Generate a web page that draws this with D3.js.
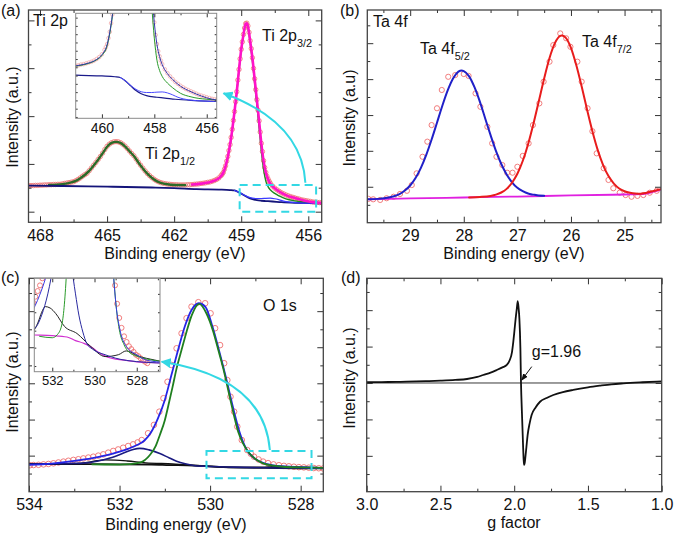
<!DOCTYPE html>
<html>
<head>
<meta charset="utf-8">
<title>XPS and EPR spectra</title>
<script src="https://d3js.org/d3.v7.min.js"></script>
<style>
  body { margin: 0; background: #fff; }
  svg { display: block; }
</style>
</head>
<body>
<svg id="fig" width="675" height="536"></svg>
<script>
// ---------- data (x value, intensity) ----------

// (a) Ti 2p, intensity in % of frame height
const aData = [
  [468.5,17.2],[468.4,17.3],[468.3,17.3],[468.2,17.4],[468.1,17.4],[468.0,17.5],[467.9,17.5],[467.8,17.6],[467.7,17.6],[467.6,17.7],
  [467.5,17.7],[467.4,17.8],[467.3,17.8],[467.2,17.9],[467.1,17.9],[467.0,18.1],[466.9,18.3],[466.8,18.5],[466.7,18.7],[466.6,18.9],
  [466.5,19.1],[466.4,19.6],[466.3,20.2],[466.2,20.9],[466.1,21.7],[466.0,22.4],[465.9,23.1],[465.8,24.3],[465.7,25.6],[465.6,26.9],
  [465.5,28.2],[465.4,29.6],[465.3,31.0],[465.2,32.6],[465.1,34.3],[465.0,35.8],[464.9,36.8],[464.8,37.5],[464.7,37.9],[464.6,38.0],
  [464.5,37.9],[464.4,37.5],[464.3,36.8],[464.2,35.9],[464.1,34.8],[464.0,33.6],[463.9,32.4],[463.8,31.3],[463.7,29.8],[463.6,28.3],
  [463.5,26.9],[463.4,25.5],[463.3,24.2],[463.2,23.0],[463.1,22.0],[463.0,21.1],[462.9,20.3],[462.8,19.6],[462.7,19.1],[462.6,18.7],
  [462.5,18.4],[462.4,18.2],[462.3,18.0],[462.2,17.9],[462.1,17.8],[462.0,17.7],[461.9,17.7],[461.8,17.6],[461.7,17.6],[461.6,17.6],
  [461.5,17.6],[461.4,17.7],[461.3,17.7],[461.2,17.8],[461.1,17.9],[461.0,18.0],[460.9,18.1],[460.8,18.3],[460.7,18.4],[460.6,18.6],
  [460.5,18.8],[460.4,19.0],[460.3,19.3],[460.2,19.7],[460.1,20.2],[460.0,20.9],[459.9,22.0],[459.85,22.7],[459.8,23.5],[459.75,25.0],
  [459.7,26.6],[459.65,28.8],[459.6,31.0],[459.55,33.8],[459.5,36.6],[459.45,40.0],[459.4,43.8],[459.35,48.0],[459.3,52.2],[459.25,56.8],
  [459.2,61.5],[459.15,67.0],[459.1,72.0],[459.05,77.0],[459.0,81.5],[458.95,85.0],[458.9,88.5],[458.85,91.5],[458.8,93.6],[458.75,93.8],
  [458.7,92.5],[458.65,89.5],[458.6,85.5],[458.55,81.8],[458.5,77.5],[458.45,72.5],[458.4,67.6],[458.35,62.5],[458.3,57.8],[458.25,52.9],
  [458.2,47.8],[458.15,42.5],[458.1,37.2],[458.05,33.3],[458.0,29.0],[457.95,25.8],[457.9,23.5],[457.85,21.7],[457.8,20.4],[457.75,19.3],
  [457.7,18.4],[457.6,17.1],[457.5,16.1],[457.4,15.3],[457.3,14.6],[457.2,13.9],[457.1,13.4],[457.0,12.9],[456.9,12.5],[456.8,12.1],
  [456.7,11.8],[456.6,11.5],[456.5,11.2],[456.4,10.9],[456.3,10.6],[456.2,10.4],[456.1,10.2],[456.0,10.0],[455.9,9.8],[455.8,9.6],
  [455.7,9.5],[455.6,9.4],[455.5,9.3],[455.4,9.2]
];
const aFit12 = [
  [467.6,17.6],[467.0,18.0],[466.6,18.8],[466.4,19.5],[466.2,20.8],[466.0,22.3],[465.8,24.2],[465.6,26.8],[465.4,29.5],[465.2,32.5],
  [465.0,35.6],[464.8,37.4],[464.6,37.9],[464.4,37.4],[464.2,35.8],[464.0,33.5],[463.8,31.2],[463.6,28.2],[463.4,25.4],[463.2,22.9],
  [463.0,21.0],[462.8,19.5],[462.6,18.6],[462.3,17.9],[462.0,17.6],[461.5,17.5]
];
const aFit32 = [
  [461.2,17.8],[460.8,18.2],[460.5,18.7],[460.2,19.6],[460.0,20.8],[459.8,23.4],[459.7,26.5],[459.6,30.9],[459.5,36.5],[459.4,43.7],
  [459.3,52.1],[459.2,61.4],[459.1,71.9],[459.0,81.4],[458.9,88.4],[458.8,93.5],[458.75,93.7],[458.7,92.4],[458.6,85.4],[458.5,77.4],
  [458.4,67.5],[458.3,57.7],[458.2,47.7],[458.1,37.1],[458.0,28.9],[457.9,23.4],[457.8,20.3],[457.7,18.3],[457.5,16.0],[457.3,14.5],
  [457.0,12.8],[456.6,11.4],[456.2,10.3],[455.8,9.5],[455.4,9.1]
];
const aTi4 = [
  [461.2,17.7],[460.8,18.1],[460.5,18.6],[460.2,19.5],[460.0,20.6],[459.8,23.1],[459.7,26.2],[459.6,30.5],[459.5,36.1],[459.4,43.3],
  [459.3,51.7],[459.2,61.0],[459.1,71.5],[459.0,81.0],[458.9,88.0],[458.8,93.0],[458.75,93.2],[458.7,91.8],[458.6,84.5],[458.5,76.0],
  [458.4,65.5],[458.3,55.0],[458.2,44.5],[458.1,33.5],[458.0,25.0],[457.9,19.4],[457.8,16.8],[457.7,15.3],[457.5,13.6],[457.3,12.4],
  [457.0,11.0],[456.6,10.1],[456.3,9.7],[456.0,9.5],[455.6,9.3],[455.4,9.2]
];
const aTi3 = [
  [459.3,15.0],[459.1,14.15],[458.9,13.0],[458.7,12.0],[458.5,11.4],[458.3,11.2],[458.1,11.2],[457.9,11.3],[457.7,11.35],[457.5,11.1],
  [457.3,10.6],[457.1,10.0],[456.9,9.6],[456.7,9.35],[456.4,9.15],[456.0,9.0],[455.4,8.9]
];
const aBackground = [
  [468.5,17.3],[467.0,17.1],[465.0,16.8],[463.0,16.4],[462.0,16.1],[461.0,15.6],[460.0,15.4],[459.5,15.2],[459.3,15.0],[459.1,14.1],
  [458.9,12.9],[458.7,11.7],[458.5,10.9],[458.3,10.4],[458.1,10.15],[457.9,10.0],[457.6,9.8],[457.2,9.5],[456.6,9.2],[456.0,9.0],[455.4,8.9]
];

// (b) Ta 4f
const bData = [
  [29.78,11.2],[29.69,11.0],[29.56,10.7],[29.44,11.5],[29.31,12.2],[29.19,13.5],[29.06,15.0],[28.97,17.7],[28.88,23.2],[28.77,31.0],
  [28.68,38.1],[28.6,45.9],[28.5,53.8],[28.41,62.4],[28.29,68.6],[28.16,69.4],[28.0,69.9],[27.91,69.0],[27.78,60.8],[27.69,54.5],
  [27.56,45.1],[27.47,37.3],[27.39,31.0],[27.28,27.1],[27.19,23.5],[27.09,23.5],[27.0,26.3],[26.9,31.4],[26.79,37.3],[26.71,45.9],
  [26.59,56.1],[26.51,66.3],[26.4,75.7],[26.33,83.5],[26.2,89.0],[26.09,86.7],[26.01,82.7],[25.88,75.7],[25.8,66.3],[25.69,53.8],
  [25.6,43.0],[25.52,32.6],[25.39,25.6],[25.3,20.1],[25.21,16.2],[25.09,14.1],[24.98,13.0],[24.87,12.2],[24.76,12.6],[24.65,13.0],
  [24.53,14.1],[24.4,15.0]
];
const bTa52 = [
  [29.8,11.0],[29.6,11.2],[29.4,11.8],[29.3,12.4],[29.2,13.4],[29.1,15.1],[29.0,17.5],[28.9,21.0],[28.8,25.8],[28.7,31.9],
  [28.6,39.1],[28.5,47.0],[28.4,55.0],[28.3,62.2],[28.2,67.8],[28.1,71.0],[28.04,71.6],[28.0,71.3],[27.9,68.8],[27.8,63.7],
  [27.7,56.9],[27.6,49.0],[27.5,41.2],[27.4,33.8],[27.3,27.6],[27.2,22.7],[27.1,19.0],[27.0,16.4],[26.9,14.8],[26.8,13.7],
  [26.7,13.2],[26.6,12.8],[26.5,12.7]
];
const bTa72 = [
  [27.9,11.9],[27.7,12.1],[27.5,12.6],[27.4,13.2],[27.3,14.2],[27.2,15.9],[27.1,18.8],[27.0,23.0],[26.9,29.0],[26.8,36.9],
  [26.7,46.5],[26.6,57.1],[26.5,67.8],[26.4,77.4],[26.3,84.4],[26.2,87.8],[26.17,88.0],[26.1,87.0],[26.0,82.2],[25.9,74.0],
  [25.8,64.0],[25.7,53.2],[25.6,43.0],[25.5,34.1],[25.4,27.1],[25.3,21.9],[25.2,18.4],[25.1,16.1],[25.0,14.8],[24.9,14.1],
  [24.8,13.7],[24.7,13.6],[24.6,14.0],[24.5,14.7],[24.4,15.3],[24.32,15.8]
];
const bBaseline = [
  [29.8,11.0],[29.0,11.4],[28.0,11.85],[27.0,12.3],[26.0,12.8],[25.0,13.25],[24.7,13.4],[24.6,13.7],[24.5,14.3],[24.4,15.0],[24.32,15.6]
];

// (c) O 1s
const cData = [
  [533.98,12.4],[533.9,12.5],[533.79,12.6],[533.68,12.8],[533.57,13.0],[533.46,13.3],[533.35,13.7],[533.24,14.1],[533.13,14.5],[533.02,14.9],
  [532.91,15.2],[532.8,15.6],[532.69,16.0],[532.58,16.4],[532.47,16.9],[532.36,17.5],[532.25,18.3],[532.14,19.1],[532.03,19.8],[531.92,20.6],
  [531.81,21.4],[531.7,22.2],[531.6,23.1],[531.51,24.2],[531.37,27.4],[531.24,31.3],[531.12,37.5],[531.03,43.8],[530.94,51.5],[530.85,59.4],
  [530.74,67.2],[530.63,74.2],[530.52,81.3],[530.41,86.7],[530.26,88.8],[530.11,88.3],[529.99,83.6],[529.89,76.6],[529.78,68.7],[529.69,60.2],
  [529.62,52.3],[529.55,44.5],[529.47,37.5],[529.4,30.5],[529.3,24.2],[529.18,19.5],[529.1,17.8],[529.03,16.4],[528.93,15.1],[528.83,14.1],
  [528.72,13.4],[528.6,12.8],[528.48,12.4],[528.37,12.1],[528.26,11.9],[528.15,11.7],[528.04,11.5],[527.93,11.4],[527.82,11.25],[527.71,11.1],
  [527.6,11.0],[527.5,10.9]
];
const cEnvelope = [
  [534.0,12.6],[533.5,13.2],[533.0,14.4],[532.6,15.7],[532.3,17.0],[532.0,18.8],[531.8,20.2],[531.6,22.0],[531.45,24.0],[531.3,28.0],
  [531.15,34.5],[531.0,43.0],[530.85,55.0],[530.7,67.0],[530.55,78.0],[530.4,85.5],[530.25,88.3],[530.1,86.5],[529.95,77.5],[529.8,66.0],
  [529.65,53.5],[529.5,40.0],[529.35,28.0],[529.2,20.0],[529.0,15.3],[528.8,13.3],[528.5,12.1],[528.0,11.5],[527.5,11.1],[526.6,10.95]
];
const cOlattice = [
  [532.6,12.8],[532.0,12.7],[531.77,12.9],[531.55,13.6],[531.33,17.2],[531.2,21.5],[531.11,26.6],[531.0,33.5],[530.92,40.6],[530.83,49.0],
  [530.74,57.8],[530.63,66.5],[530.52,75.0],[530.4,83.0],[530.24,88.0],[530.08,83.5],[529.93,75.0],[529.82,66.5],[529.71,57.8],[529.63,50.5],
  [529.56,43.8],[529.47,35.5],[529.38,28.1],[529.27,22.5],[529.16,18.7],[529.0,15.3],[528.83,13.3],[528.6,12.2],[528.38,11.7],[528.0,11.4],
  [527.54,11.2],[526.6,11.0]
];
const cOvacancy = [
  [534.0,13.0],[533.5,13.1],[533.0,13.25],[532.8,13.4],[532.5,14.3],[532.21,15.8],[531.9,18.2],[531.7,19.8],[531.55,20.3],[531.35,19.6],
  [531.11,17.9],[530.9,15.8],[530.74,14.3],[530.55,13.1],[530.37,12.3],[530.1,11.9],[529.5,11.5],[528.5,11.1],[526.6,10.9]
];
const cOhydroxyl = [
  [534.0,13.0],[533.3,13.0],[532.95,13.1],[532.67,13.8],[532.5,14.5],[532.33,14.9],[532.1,14.8],[531.83,14.4],[531.42,13.5],[530.83,13.0],
  [530.17,12.07],[529.5,11.37],[528.87,11.5],[528.5,11.77],[527.92,11.4],[527.17,11.13],[526.67,10.97]
];
const cBackground = [
  [534.0,13.0],[533.0,12.9],[532.0,12.85],[531.3,12.75],[530.9,12.5],[530.5,12.3],[530.1,12.0],[529.8,11.65],[529.5,11.4],[529.2,11.25],
  [528.5,11.1],[528.0,11.0],[527.5,10.95],[526.6,10.9]
];

// (d) EPR, g factor vs intensity (tick units)
const dSignal = [
  [3.0,0.04],[2.9,0.05],[2.8,0.06],[2.73,0.07],[2.6,0.1],[2.5,0.13],[2.4,0.17],[2.32,0.22],[2.25,0.33],[2.21,0.44],
  [2.16,0.57],[2.12,0.71],[2.08,0.86],[2.05,0.99],[2.03,1.26],[2.015,1.7],[2.006,2.27],[1.998,2.9],[1.99,3.55],[1.982,4.1],
  [1.976,4.5],[1.97,4.1],[1.965,3.55],[1.958,1.91],[1.954,0.04],[1.947,-1.76],[1.94,-3.41],[1.936,-4.2],[1.933,-4.5],[1.929,-4.4],
  [1.925,-4.14],[1.917,-3.5],[1.909,-2.86],[1.895,-2.2],[1.882,-1.76],[1.855,-1.35],[1.825,-1.03],[1.78,-0.82],[1.735,-0.66],[1.67,-0.5],
  [1.6,-0.38],[1.5,-0.24],[1.42,-0.15],[1.34,-0.07],[1.26,-0.02],[1.13,0.04],[1.0,0.09]
];

// axis domains
const aXDomain = [468.515, 455.4], aYDomain = [0, 100];
const bXDomain = [29.8, 24.32], bYDomain = [0, 100];
const cXDomain = [534, 527.5], cYDomain = [0, 100];
const dXDomain = [3.0, 1.0], dYDomain = [-5.97, 5.75];
const iaXDomain = [461, 455.62], iaYDomain = [4.66, 31.3];
const icXDomain = [532.85, 526.9], icYDomain = [10.3, 16.9];

// tick values
const aXMajor = [468, 465, 462, 459, 456], aXMinor = [466.5, 463.5, 460.5, 457.5];
const aYMajor = [5, 27.5, 50, 72.6, 95.1], aYMinor = [16.3, 38.8, 61.3, 83.8];
const bXMajor = [29, 28, 27, 26, 25], bXMinor = [29.5, 28.5, 27.5, 26.5, 25.5, 24.5];
const bYMajor = [16.9, 33.8, 50.6, 67.5, 84.4], bYMinor = [8.4, 25.3, 42.2, 59.1, 76.0, 92.8];
const cXMajor = [534, 532, 530, 528], cXMinor = [533, 531, 529];
const cYMajor = [16.9, 33.8, 50.8, 67.7, 84.6], cYMinor = [8.5, 25.4, 42.3, 59.2, 76.1, 93.1];
const dXMajor = [3.0, 2.5, 2.0, 1.5, 1.0], dXMinor = [2.75, 2.25, 1.75, 1.25];
const dYMajor = [-4, -2, 0, 2, 4], dYMinor = [-5, -3, -1, 1, 3, 5];
const iaXMajor = [460, 458, 456], iaXMinor = [459, 457];
const iaYMinor = [5.0, 7.1, 9.2, 11.3, 13.4, 15.5, 17.6, 19.7, 21.8, 23.9, 26.0, 28.1, 30.2];
const icXMajor = [532, 530, 528], icXMinor = [531, 529, 527];
const icYMinor = [10.7, 12.0, 13.2, 14.5, 15.8];

// annotations in data units: zoom boxes [corner, corner], arrows [start, control, end]
const aZoomBox = [[459.07, 17.57], [455.65, 5.0]];
const aArrow = [[456.13, 18.65], [456.28, 47.2], [459.79, 60.8]];
const cZoomBox = [[530.08, 19.07], [527.76, 6.28]];
const cArrow = [[528.68, 19.54], [528.81, 53.5], [531.07, 60.9]];
const dArrow = [[1.881, 0.9], [1.949, 0.16]];
const dLabelAt = [1.881, 1.45];

// ---------- layout ----------
const FONT = "Arial, 'Liberation Sans', sans-serif";
const CYAN = "#33d8e4";
const RED_CIRCLE = "#ef6f6f";

const svg = d3.select("#fig").attr("font-family", FONT);
const defs = svg.append("defs");

defs.append("marker").attr("id", "cyanHead")
  .attr("viewBox", "0 0 10 10").attr("refX", 9).attr("refY", 5)
  .attr("markerWidth", 5).attr("markerHeight", 5).attr("orient", "auto")
  .append("path").attr("d", "M0,0L10,5L0,10z").attr("fill", CYAN);
defs.append("marker").attr("id", "blackHead")
  .attr("viewBox", "0 0 10 10").attr("refX", 9).attr("refY", 5)
  .attr("markerWidth", 7).attr("markerHeight", 7).attr("orient", "auto")
  .append("path").attr("d", "M0,1L10,5L0,9z").attr("fill", "#111");

function makePanel(id, box, xDomain, yDomain) {
  const x = d3.scaleLinear().domain(xDomain).range([box.left, box.right]);
  const y = d3.scaleLinear().domain(yDomain).range([box.bottom, box.top]);
  defs.append("clipPath").attr("id", "clip-" + id).append("rect")
    .attr("x", box.left).attr("y", box.top)
    .attr("width", box.right - box.left).attr("height", box.bottom - box.top);
  const g = svg.append("g");
  if (box.fill) {
    g.append("rect").attr("x", box.left).attr("y", box.top)
      .attr("width", box.right - box.left).attr("height", box.bottom - box.top)
      .attr("fill", box.fill);
  }
  const plot = g.append("g").attr("clip-path", `url(#clip-${id})`);
  return { x, y, g, plot, box };
}

function addAxes(P, o) {
  const { x, y, g, box } = P;
  const ax = (axis, tr) => {
    const s = g.append("g").attr("transform", tr).call(axis);
    s.select(".domain").remove();
    s.attr("font-family", FONT).attr("font-size", o.fontSize).style("color", "#333");
    s.selectAll("line").attr("stroke-width", 1);
    s.selectAll("text").attr("fill", "#111");
    return s;
  };
  const bottom = `translate(0,${box.bottom})`, top = `translate(0,${box.top})`;
  const left = `translate(${box.left},0)`, right = `translate(${box.right},0)`;
  if (o.xMajor) {
    ax(d3.axisBottom(x).tickValues(o.xMajor).tickSize(-o.major).tickSizeOuter(0)
      .tickPadding(o.pad).tickFormat(o.fmt), bottom);
    ax(d3.axisTop(x).tickValues(o.xMajor).tickSize(-o.major).tickSizeOuter(0).tickFormat(""), top);
  }
  if (o.xMinor) {
    ax(d3.axisBottom(x).tickValues(o.xMinor).tickSize(-o.minor).tickSizeOuter(0).tickFormat(""), bottom);
    ax(d3.axisTop(x).tickValues(o.xMinor).tickSize(-o.minor).tickSizeOuter(0).tickFormat(""), top);
  }
  if (o.yMajor) {
    ax(d3.axisLeft(y).tickValues(o.yMajor).tickSize(-o.major).tickSizeOuter(0).tickFormat(""), left);
    ax(d3.axisRight(y).tickValues(o.yMajor).tickSize(-o.major).tickSizeOuter(0).tickFormat(""), right);
  }
  if (o.yMinor) {
    ax(d3.axisLeft(y).tickValues(o.yMinor).tickSize(-o.minor).tickSizeOuter(0).tickFormat(""), left);
    ax(d3.axisRight(y).tickValues(o.yMinor).tickSize(-o.minor).tickSizeOuter(0).tickFormat(""), right);
  }
  g.append("rect").attr("x", box.left).attr("y", box.top)
    .attr("width", box.right - box.left).attr("height", box.bottom - box.top)
    .attr("fill", "none").attr("stroke", o.frame || "#444").attr("stroke-width", o.frameWidth || 1.3);
}

function drawLine(P, data, color, width) {
  const line = d3.line().x(d => P.x(d[0])).y(d => P.y(d[1])).curve(d3.curveMonotoneX);
  P.plot.append("path").datum(data).attr("d", line)
    .attr("fill", "none").attr("stroke", color).attr("stroke-width", width)
    .attr("stroke-linejoin", "round").attr("stroke-linecap", "round");
}

function drawCircles(P, data, r, color, width) {
  P.plot.append("g").selectAll("circle").data(data).join("circle")
    .attr("cx", d => P.x(d[0])).attr("cy", d => P.y(d[1])).attr("r", r)
    .attr("fill", "none").attr("stroke", color).attr("stroke-width", width);
}

function zoomBox(P, corners) {
  const [c0, c1] = corners;
  P.g.append("rect")
    .attr("x", P.x(c0[0])).attr("y", P.y(c0[1]))
    .attr("width", P.x(c1[0]) - P.x(c0[0])).attr("height", P.y(c1[1]) - P.y(c0[1]))
    .attr("fill", "none").attr("stroke", CYAN).attr("stroke-width", 2)
    .attr("stroke-dasharray", "8,5");
}

function curvedArrow(P, pts) {
  const [s, c, e] = pts;
  P.g.append("path")
    .attr("d", `M${P.x(s[0])},${P.y(s[1])} Q${P.x(c[0])},${P.y(c[1])} ${P.x(e[0])},${P.y(e[1])}`)
    .attr("fill", "none").attr("stroke", CYAN).attr("stroke-width", 2)
    .attr("marker-end", "url(#cyanHead)");
}

function label(x, y, str, size, anchor) {
  return svg.append("text").attr("x", x).attr("y", y).attr("font-size", size)
    .attr("text-anchor", anchor || "start").attr("fill", "#111").text(str);
}

function subLabel(x, y, main, sub, size) {
  const t = svg.append("text").attr("x", x).attr("y", y).attr("font-size", size).attr("fill", "#111");
  t.append("tspan").text(main);
  t.append("tspan").attr("font-size", size * 0.68).attr("dy", size * 0.36).text(sub);
}

function yTitle(x, y, str) {
  svg.append("text").attr("transform", `translate(${x},${y}) rotate(-90)`)
    .attr("text-anchor", "middle").attr("font-size", 16).attr("fill", "#111").text(str);
}

const mainAxis = { major: 6, minor: 3, pad: 7, fontSize: 16 };
const insetAxis = { major: 4, minor: 2, frame: "#8a8a8a", frameWidth: 1 };

// ---------- (a) Ti 2p ----------
const A = makePanel("a", { left: 28.5, right: 321.7, top: 10, bottom: 222.3 }, aXDomain, aYDomain);
drawCircles(A, aData, 2.2, RED_CIRCLE, 0.8);
drawLine(A, aFit12, "#2d6a28", 2.4);
drawLine(A, aBackground, "#14147a", 1.8);
drawLine(A, aTi4, "#1e8c1e", 1.4);
drawLine(A, aTi3, "#3a3aff", 1.2);
drawLine(A, aFit32, "#ff12c8", 2.6);
zoomBox(A, aZoomBox);
curvedArrow(A, aArrow);

const IA = makePanel("ia", { left: 75.7, right: 216.7, top: 13.3, bottom: 118.3, fill: "#fff" }, iaXDomain, iaYDomain);
drawCircles(IA, aData, 1.8, "#f2a2a2", 0.7);
drawLine(IA, aBackground, "#1a1a8a", 1.2);
drawLine(IA, aTi3, "#4a4aff", 1);
drawLine(IA, aTi4, "#2a9a2a", 1);
drawLine(IA, aFit32, "#3434a8", 1);
addAxes(IA, { ...insetAxis, xMajor: iaXMajor, xMinor: iaXMinor, yMinor: iaYMinor,
  pad: 5, fontSize: 14, fmt: d3.format("d") });
addAxes(A, { ...mainAxis, xMajor: aXMajor, xMinor: aXMinor, yMajor: aYMajor, yMinor: aYMinor, fmt: d3.format("d") });

// ---------- (b) Ta 4f ----------
const B = makePanel("b", { left: 367.3, right: 661, top: 10, bottom: 222.7 }, bXDomain, bYDomain);
drawCircles(B, bData, 2.6, RED_CIRCLE, 0.9);
drawLine(B, bBaseline, "#e020e0", 1.8);
drawLine(B, bTa52, "#2020c8", 2);
drawLine(B, bTa72, "#e81c1c", 2);
addAxes(B, { ...mainAxis, xMajor: bXMajor, xMinor: bXMinor, yMajor: bYMajor, yMinor: bYMinor, fmt: d3.format("d") });

// ---------- (c) O 1s ----------
const C = makePanel("c", { left: 29, right: 323.3, top: 278.3, bottom: 491.7 }, cXDomain, cYDomain);
drawCircles(C, cData, 2.8, RED_CIRCLE, 0.9);
drawLine(C, cBackground, "#111", 1.8);
drawLine(C, cOhydroxyl, "#111", 1.4);
drawLine(C, cOvacancy, "#1a1a80", 1.6);
drawLine(C, cEnvelope, "#2525e6", 1.8);
drawLine(C, cOlattice, "#1f7f1f", 1.8);
zoomBox(C, cZoomBox);
curvedArrow(C, cArrow);

const IC = makePanel("ic", { left: 34.3, right: 160, top: 278.3, bottom: 371.7, fill: "#fff" }, icXDomain, icYDomain);
drawCircles(IC, cData, 2.5, RED_CIRCLE, 0.9);
drawLine(IC, cBackground, "#d030d0", 1.2);
drawLine(IC, cOhydroxyl, "#222", 1);
drawLine(IC, cOvacancy, "#2a2aa0", 1);
drawLine(IC, cOlattice, "#2a9a2a", 1);
drawLine(IC, cEnvelope, "#3a3ae0", 1);
addAxes(IC, { ...insetAxis, xMajor: icXMajor, xMinor: icXMinor, yMinor: icYMinor,
  pad: 4, fontSize: 13, fmt: d3.format("d") });
addAxes(C, { ...mainAxis, xMajor: cXMajor, xMinor: cXMinor, yMajor: cYMajor, yMinor: cYMinor, fmt: d3.format("d") });

// ---------- (d) EPR ----------
const D = makePanel("d", { left: 366.7, right: 661.7, top: 278.3, bottom: 491.7 }, dXDomain, dYDomain);
D.plot.append("line").attr("x1", D.x(dXDomain[0])).attr("x2", D.x(dXDomain[1]))
  .attr("y1", D.y(0)).attr("y2", D.y(0)).attr("stroke", "#222").attr("stroke-width", 0.9);
drawLine(D, dSignal, "#111", 1.8);
D.g.append("line")
  .attr("x1", D.x(dArrow[0][0])).attr("y1", D.y(dArrow[0][1]))
  .attr("x2", D.x(dArrow[1][0])).attr("y2", D.y(dArrow[1][1]))
  .attr("stroke", "#111").attr("stroke-width", 1).attr("marker-end", "url(#blackHead)");
addAxes(D, { ...mainAxis, xMajor: dXMajor, xMinor: dXMinor, yMajor: dYMajor, yMinor: dYMinor, fmt: d3.format(".1f") });
label(D.x(dLabelAt[0]), D.y(dLabelAt[1]), "g=1.96", 16);

// ---------- texts ----------
label(1, 16, "(a)", 16);
label(340, 16, "(b)", 16);
label(1, 283, "(c)", 16);
label(341, 283, "(d)", 16);

label(33, 26, "Ti 2p", 16);
subLabel(262, 41, "Ti 2p", "3/2", 16);
subLabel(145, 159, "Ti 2p", "1/2", 16);
label(373, 27, "Ta 4f", 16);
subLabel(420, 54, "Ta 4f", "5/2", 16);
subLabel(582, 47, "Ta 4f", "7/2", 16);
label(263, 311, "O 1s", 16);

label(175, 258.5, "Binding energy (eV)", 16, "middle");
label(514, 258.5, "Binding energy (eV)", 16, "middle");
label(176, 529.5, "Binding energy (eV)", 16, "middle");
label(514, 527.5, "g factor", 16, "middle");

yTitle(18, 117, "Intensity (a.u.)");
yTitle(355, 118, "Intensity (a.u)");
yTitle(18, 382, "Intensity (a.u.)");
yTitle(355, 378, "Intensity (a.u.)");
</script>
</body>
</html>
